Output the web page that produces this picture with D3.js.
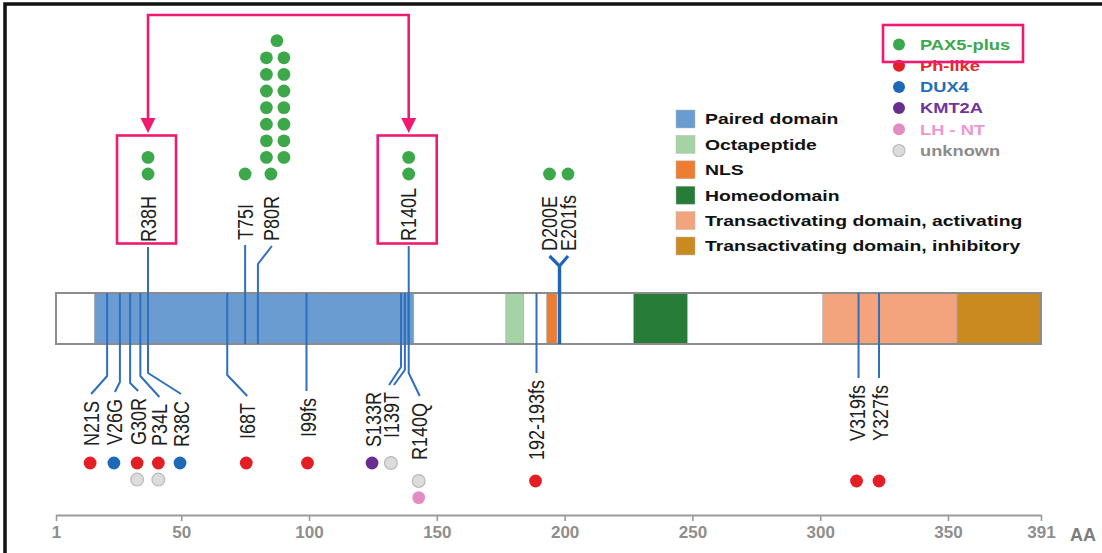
<!DOCTYPE html>
<html><head><meta charset="utf-8">
<script src="https://cdn.jsdelivr.net/npm/d3@7"></script>
<style>body{margin:0;background:#fff}svg{display:block}</style>
</head><body><svg id="c" width="1102" height="553"></svg>
<script>
// ---------------- DATA ----------------
const proteinRange = [1, 350, 391];
const axisTicks = [1, 50, 100, 150, 200, 250, 300, 350, 391];
const axisUnit = "AA";

const domainNames = ["Paired domain", "Octapeptide", "NLS", "Homeodomain",
  "Transactivating domain, activating", "Transactivating domain, inhibitory"];
const domainStart = [16, 177, 193, 227, 301, 354];
const domainEnd   = [141, 184, 197, 248, 354, 391];

const subtypeNames = ["PAX5-plus", "Ph-like", "DUX4", "KMT2A", "LH - NT", "unknown"];

const mutLabels = ["R38H", "T75I", "P80R", "R140L", "D200E", "E201fs",
  "N21S", "V26G", "G30R", "P34L", "R38C", "I68T", "I99fs", "S133R", "I139T", "R140Q",
  "192-193fs", "V319fs", "Y327fs"];
const mutSites = [37, 75, 80, 139, 198, 198,
  21, 26, 30, 34, 37, 68, 99, 136, 137.5, 139, 189, 315, 323];
const mutSides = ["up", "up", "up", "up", "up", "up",
  "down", "down", "down", "down", "down", "down", "down", "down", "down", "down", "down", "down", "down"];
// number of cases per subtype, per mutation (same order as mutLabels)
const casesPAX5plus = [2, 1, 16, 2, 1, 1, 0, 0, 0, 0, 0, 0, 0, 0, 0, 0, 0, 0, 0];
const casesPhLike   = [0, 0, 0, 0, 0, 0, 1, 0, 1, 1, 0, 1, 1, 0, 0, 0, 1, 1, 1];
const casesDUX4     = [0, 0, 0, 0, 0, 0, 0, 1, 0, 0, 1, 0, 0, 0, 0, 0, 0, 0, 0];
const casesKMT2A    = [0, 0, 0, 0, 0, 0, 0, 0, 0, 0, 0, 0, 0, 1, 0, 0, 0, 0, 0];
const casesLHNT     = [0, 0, 0, 0, 0, 0, 0, 0, 0, 0, 0, 0, 0, 0, 0, 1, 0, 0, 0];
const casesUnknown  = [0, 0, 0, 0, 0, 0, 0, 0, 1, 1, 0, 0, 0, 0, 1, 1, 0, 0, 0];
const highlighted = ["R38H", "R140L"];
const highlightedSubtype = "PAX5-plus";

// ---------------- STYLE / LAYOUT ----------------
const domainColors = ["#6a9bd1", "#a6d3a6", "#ee7d31", "#277c37", "#f3a47c", "#c98a20"];
const dotColors = {"PAX5-plus": "#3ca84a", "Ph-like": "#e31e25", "DUX4": "#1e69b6",
  "KMT2A": "#6a2d8f", "LH - NT": "#e38cc4", "unknown": "#dcdcdc"};
const textColors = {"PAX5-plus": "#3aa84c", "Ph-like": "#e8262e", "DUX4": "#1f6fbd",
  "KMT2A": "#7034a0", "LH - NT": "#ec98cf", "unknown": "#8b8b8b"};
const stackOrder = ["PAX5-plus", "Ph-like", "DUX4", "KMT2A", "unknown", "LH - NT"];
const caseTable = {"PAX5-plus": casesPAX5plus, "Ph-like": casesPhLike, "DUX4": casesDUX4,
  "KMT2A": casesKMT2A, "LH - NT": casesLHNT, "unknown": casesUnknown};
const PINK = "#f01a70";
const LINE = "#2e6fbe";
const FONT = "'Liberation Sans', Arial, Helvetica, sans-serif";
const SX = 1.2;           // horizontal stretch of the original figure

// label placement (px offsets from the mutation line)
const place = {
  "R38H":  {dx: 0,   end: 247},
  "T75I":  {dx: 0,   end: 245},
  "P80R":  {dx: 14,  bend: 264, end: 246},
  "R140L": {dx: 0,   end: 246},
  "D200E": {dx: -10, bend: 266, end: 256, thick: true},
  "E201fs":{dx: 8.5, bend: 266, end: 256, thick: true},
  "N21S":  {dx: -16, bend: 376, end: 394},
  "V26G":  {dx: -5,  bend: 382, end: 392},
  "G30R":  {dx: 8,   bend: 383, end: 391},
  "P34L":  {dx: 19,  bend: 376, end: 397},
  "R38C":  {dx: 33,  bend: 373, end: 394},
  "I68T":  {dx: 20,  bend: 375, end: 396},
  "I99fs": {dx: 2,   end: 391},
  "S133R": {dx: -28, bend: 367, end: 385, cdx: 16},
  "I139T": {dx: -13, bend: 370, end: 385, cdx: 2},
  "R140Q": {dx: 11,  bend: 373, end: 396, tier: 1},
  "192-193fs": {dx: 0, end: 373, tier: 1},
  "V319fs": {dx: -1, end: 378, tier: 1},
  "Y327fs": {dx: 1,  end: 378, tier: 1}
};

const svg = d3.select("#c");
const x = d3.scaleLinear().domain(proteinRange).range([56, 948, 1041]);
const barTop = 293, barH = 51, barBot = barTop + barH;
const R = 6.4, STEP = 16.6;

// frame
svg.append("rect").attr("x", 5).attr("y", 4).attr("width", 1300).attr("height", 700)
  .attr("fill", "none").attr("stroke", "#111").attr("stroke-width", 3.5);

// protein bar
svg.append("rect").attr("x", x(1)).attr("y", barTop).attr("width", x(391) - x(1)).attr("height", barH)
  .attr("fill", "#fff");
svg.selectAll("rect.dom").data(domainNames).join("rect").attr("class", "dom")
  .attr("x", (d, i) => x(domainStart[i])).attr("y", barTop)
  .attr("width", (d, i) => x(domainEnd[i]) - x(domainStart[i])).attr("height", barH)
  .attr("fill", (d, i) => domainColors[i]).attr("stroke", "#a5a5a5").attr("stroke-width", 0.6);
svg.append("rect").attr("x", x(1)).attr("y", barTop).attr("width", x(391) - x(1)).attr("height", barH)
  .attr("fill", "none").attr("stroke", "#8c8c8c").attr("stroke-width", 2);

// mutations
const muts = mutLabels.map((m, i) => {
  const p = place[m];
  const sx = x(mutSites[i]);
  const lx = sx + p.dx;
  const dots = [];
  stackOrder.forEach(s => { for (let k = 0; k < caseTable[s][i]; k++) dots.push(s); });
  return {label: m, side: mutSides[i], sx, lx, p, dots};
});

const lineG = svg.append("g");
muts.forEach(mu => {
  const p = mu.p;
  const path = d3.path();
  if (mu.side === "up") {
    path.moveTo(mu.sx, barBot);
    if (p.bend !== undefined) { path.lineTo(mu.sx, p.bend); path.lineTo(mu.lx, p.end); }
    else path.lineTo(mu.sx, p.end);
  } else {
    path.moveTo(mu.sx, barTop);
    if (p.bend !== undefined) { path.lineTo(mu.sx, p.bend); path.lineTo(mu.lx + (p.cdx || 0), p.end); }
    else path.lineTo(mu.sx, p.end);
  }
  lineG.append("path").attr("d", path.toString()).attr("fill", "none")
    .attr("stroke", p.thick ? "#1f66b8" : LINE).attr("stroke-width", p.thick ? 3.2 : 2)
    .attr("stroke-linejoin", "round");
});

// labels
const labG = svg.append("g").attr("font-family", FONT).attr("font-size", 18).attr("fill", "#1e1e1e");
muts.forEach(mu => {
  const up = mu.side === "up";
  const y = up ? mu.p.end - 5 : mu.p.end + 7;
  labG.append("text").attr("transform", `translate(${mu.lx},${y}) scale(${SX},1) rotate(-90)`)
    .attr("text-anchor", up ? "start" : "end").attr("dy", "0.35em").text(mu.label);
});

// dots
const dotG = svg.append("g");
function drawDot(cx, cy, s) {
  dotG.append("circle").attr("cx", cx).attr("cy", cy).attr("r", R)
    .attr("fill", dotColors[s]).attr("stroke", s === "unknown" ? "#b9b9b9" : "none").attr("stroke-width", 1.2);
}
muts.forEach(mu => {
  const n = mu.dots.length;
  if (mu.side === "up") {
    const y0 = 174;
    if (n <= 2) mu.dots.forEach((s, k) => drawDot(mu.lx, y0 - k * STEP, s));
    else {
      // first case alone, then in pairs
      let k = 0, row = 0;
      drawDot(mu.lx - 1, y0, mu.dots[k++]); row++;
      while (k < n) {
        const rem = n - k;
        if (rem >= 2) {
          drawDot(mu.lx - 5.5, y0 - row * STEP, mu.dots[k++]);
          drawDot(mu.lx + 12, y0 - row * STEP, mu.dots[k++]);
        } else drawDot(mu.lx + 5, y0 - row * STEP - 0.5, mu.dots[k++]);
        row++;
      }
    }
  } else {
    const y0 = mu.p.tier ? 481 : 463;
    mu.dots.forEach((s, k) => drawDot(mu.lx - 1, y0 + k * STEP, s));
  }
});

// highlight annotation
const hl = muts.filter(m => highlighted.includes(m.label) && m.side === "up");
const topY = 15, tipY = 133;
svg.append("path").attr("d", `M${hl[0].sx},${tipY - 12}V${topY}H${hl[1].sx}V${tipY - 12}`)
  .attr("fill", "none").attr("stroke", PINK).attr("stroke-width", 2.6);
hl.forEach(m => {
  svg.append("path").attr("d", `M${m.sx - 7.5},${tipY - 15}L${m.sx + 7.5},${tipY - 15}L${m.sx},${tipY}Z`)
    .attr("fill", PINK);
  svg.append("rect").attr("x", m.lx - 31).attr("y", 135.5).attr("width", 59).attr("height", 108)
    .attr("fill", "none").attr("stroke", PINK).attr("stroke-width", 2.6);
});

// domain legend
const dl = svg.append("g").attr("font-family", FONT).attr("font-weight", "bold").attr("font-size", 15.5);
domainNames.forEach((d, i) => {
  const cy = 119 + i * 25.4;
  dl.append("rect").attr("x", 676).attr("y", cy - 9).attr("width", 19).attr("height", 18)
    .attr("fill", domainColors[i]).attr("stroke", "#bbb").attr("stroke-width", 0.5);
  dl.append("text").attr("transform", `translate(705,${cy}) scale(1.25,1)`).attr("dy", "0.35em")
    .attr("fill", "#111").text(d);
});

// subtype legend
const sl = svg.append("g").attr("font-family", FONT).attr("font-weight", "bold").attr("font-size", 15);
subtypeNames.forEach((s, i) => {
  const cy = 44.5 + i * 21.2;
  sl.append("circle").attr("cx", 899).attr("cy", cy).attr("r", 6)
    .attr("fill", dotColors[s]).attr("stroke", s === "unknown" ? "#b9b9b9" : "none").attr("stroke-width", 1.2);
  sl.append("text").attr("transform", `translate(920,${cy}) scale(1.22,1)`).attr("dy", "0.35em")
    .attr("fill", textColors[s]).text(s);
  if (s === highlightedSubtype) {
    svg.append("rect").attr("x", 883).attr("y", cy - 19.5).attr("width", 140).attr("height", 37)
      .attr("fill", "none").attr("stroke", PINK).attr("stroke-width", 2.6);
  }
});

// axis
const ax = svg.append("g").attr("transform", "translate(0,515)")
  .call(d3.axisBottom(x).tickValues(axisTicks).tickSize(6).tickSizeOuter(0));
ax.select(".domain").attr("stroke", "#9a9a9a").attr("stroke-width", 2);
ax.selectAll(".tick line").attr("stroke", "#9a9a9a").attr("stroke-width", 1.6);
ax.selectAll(".tick text").attr("font-family", FONT).attr("font-weight", "bold").attr("font-size", 17)
  .attr("fill", "#8e8e8e").attr("y", 11);
svg.append("text").attr("x", 1070).attr("y", 541).attr("font-family", FONT).attr("font-weight", "bold")
  .attr("font-size", 18).attr("fill", "#7d7d7d").text(axisUnit);
</script></body></html>
